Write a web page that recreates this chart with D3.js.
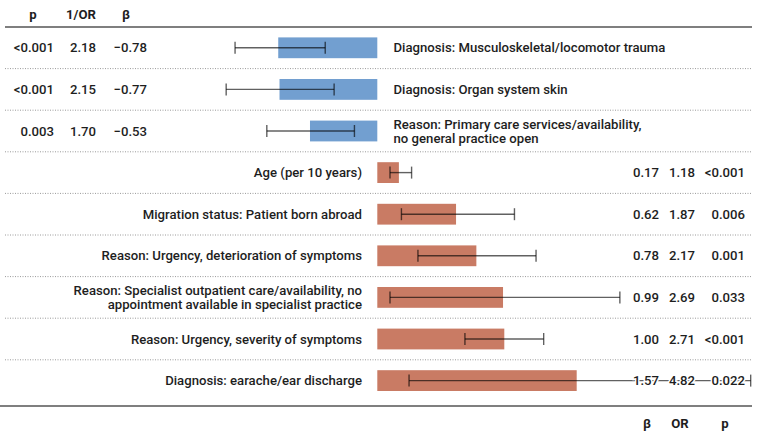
<!DOCTYPE html>
<html><head><meta charset="utf-8">
<script src="https://cdn.jsdelivr.net/npm/d3@7"></script>
<style>
body{margin:0;background:#fff;}
svg{display:block;font-family:Roboto,"Noto Sans",sans-serif;}
</style></head><body>
<svg id="c" width="760" height="439"></svg>
<script>
const labels = [
  "Diagnosis: Musculoskeletal/locomotor trauma",
  "Diagnosis: Organ system skin",
  "Reason: Primary care services/availability,|no general practice open",
  "Age (per 10 years)",
  "Migration status: Patient born abroad",
  "Reason: Urgency, deterioration of symptoms",
  "Reason: Specialist outpatient care/availability, no|appointment available in specialist practice",
  "Reason: Urgency, severity of symptoms",
  "Diagnosis: earache/ear discharge"
];
const beta   = [-0.78, -0.77, -0.53, 0.17, 0.62, 0.78, 0.99, 1.00, 1.57];
const ciLow  = [-1.12, -1.19, -0.87, 0.10, 0.19, 0.32, 0.10, 0.69, 0.25];
const ciHigh = [-0.41, -0.34, -0.18, 0.27, 1.08, 1.25, 1.91, 1.31, 2.94];
const betaText = ["\u22120.78","\u22120.77","\u22120.53","0.17","0.62","0.78","0.99","1.00","1.57"];
const orText   = ["2.18","2.15","1.70","1.18","1.87","2.17","2.69","2.71","4.82"];
const pText    = ["<0.001","<0.001","0.003","<0.001","0.006","0.001","0.033","<0.001","0.022"];
const headTop  = ["p","1/OR","\u03b2"];
const headBottom = ["\u03b2","OR","p"];

const svg = d3.select("#c");
const x0 = 377.3, k = 127;
const x = d3.scaleLinear().domain([-1.5, 3]).range([x0 - 1.5*k, x0 + 3*k]);
const y = d3.scaleBand().domain(d3.range(labels.length)).range([27, 27 + 9*41.6]).paddingInner(0.5).paddingOuter(0.25);
const rowC = i => y(i) + y.bandwidth()/2;
const step = y.step();

const blue = "#729fd0", red = "#c97b64", textCol = "#1e1e1e";
const FS = 13.5, FW = 500;

// condensation factor so the typeface reads as narrow as the reference's
const probe = svg.append("text").attr("font-size",FS).attr("font-weight",FW).text(labels[0]);
const cond = 272 / probe.node().getComputedTextLength();
probe.remove();

// separators
const seps = d3.range(1, labels.length).map(i => 27 + i*step);
svg.selectAll("line.sep").data(seps).join("line")
  .attr("x1", 5).attr("x2", 752).attr("y1", d=>d).attr("y2", d=>d)
  .attr("stroke", "#9a9a9a").attr("stroke-width", 1).attr("stroke-dasharray", "1,1.5");
svg.append("line").attr("x1",5).attr("x2",752).attr("y1",27).attr("y2",27).attr("stroke","#555").attr("stroke-width",1.5);
svg.append("line").attr("x1",0).attr("x2",752).attr("y1",406).attr("y2",406).attr("stroke","#555").attr("stroke-width",1.5);

// bars
svg.selectAll("rect.bar").data(beta).join("rect")
  .attr("x", d => x(Math.min(0,d))).attr("width", d => Math.abs(x(d)-x(0)))
  .attr("y", (d,i)=>y(i)).attr("height", y.bandwidth())
  .attr("fill", d => d<0 ? blue : red);

// whiskers
const wc = "rgba(0,0,0,0.62)";
const g = svg.append("g");
beta.forEach((b,i)=>{
  const cy = rowC(i);
  g.append("line").attr("x1",x(ciLow[i])).attr("x2",x(ciHigh[i])).attr("y1",cy).attr("y2",cy).attr("stroke",wc).attr("stroke-width",1.4);
  [ciLow[i],ciHigh[i]].forEach(v=>{
    g.append("line").attr("x1",x(v)).attr("x2",x(v)).attr("y1",cy-6).attr("y2",cy+6).attr("stroke",wc).attr("stroke-width",1.4);
  });
});

function txt(xp, yp, s, anchor, bold){
  return svg.append("text")
    .attr("transform", `translate(${xp},${yp}) scale(${cond},1)`)
    .attr("text-anchor",anchor)
    .attr("dominant-baseline","central").attr("font-size",FS).attr("fill",textCol)
    .attr("font-weight", bold ? 700 : FW)
    .attr("stroke","#fff").attr("stroke-width",3).attr("paint-order","stroke")
    .text(s);
}

// labels
labels.forEach((l,i)=>{
  const lines = l.split("|");
  const neg = beta[i] < 0;
  lines.forEach((s,j)=>{
    const yy = rowC(i) + (j - (lines.length-1)/2)*14;
    txt(neg ? 393.5 : 362, yy, s, neg ? "start" : "end", false);
  });
  if (neg) {
    txt(54, rowC(i), pText[i], "end");
    txt(96, rowC(i), orText[i], "end");
    txt(147, rowC(i), betaText[i], "end");
  } else {
    txt(659, rowC(i), betaText[i], "end");
    txt(695, rowC(i), orText[i], "end");
    txt(745, rowC(i), pText[i], "end");
  }
});

// headers
[33, 81, 126].forEach((xp,i)=>txt(xp, 14, headTop[i], "middle", true));
[647, 680, 725].forEach((xp,i)=>txt(xp, 423, headBottom[i], "middle", true));
</script>
</body></html>
